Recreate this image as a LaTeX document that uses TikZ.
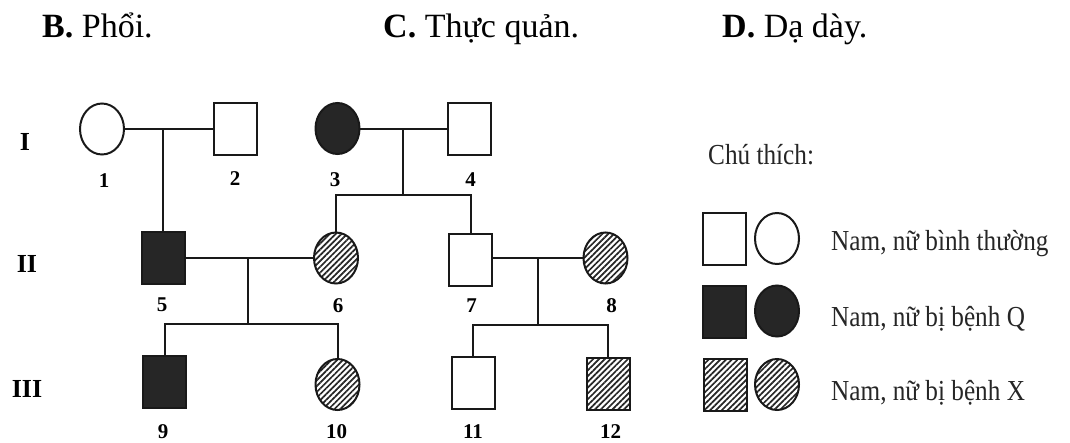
\documentclass[tikz,border=0pt]{standalone}
\usepackage{fontspec}
\setmainfont{Liberation Serif}
\newfontfamily\legfont[FakeStretch=0.87]{Liberation Serif}
\usetikzlibrary{shapes.geometric,patterns.meta}
\tikzset{
  pline/.style={line width=2pt, draw=black!90},
  person/.style={draw=black!90, line width=2pt, inner sep=0pt, outer sep=0pt},
  male/.style={person, rectangle, minimum width=43pt, minimum height=52pt},
  female/.style={person, ellipse, minimum width=44pt, minimum height=51pt},
  affQ/.style={fill=black!85},
  affX/.style={pattern={Lines[angle=45,distance=4.1pt,line width=1.7pt]}, pattern color=black!85},
  num/.style={font=\bfseries\fontsize{21}{21}\selectfont, inner sep=0pt},
  gen/.style={font=\bfseries\fontsize{26}{26}\selectfont, inner sep=0pt},
  leg/.style={font=\legfont\fontsize{29}{29}\selectfont, anchor=base west, inner sep=0pt, text=black!85},
  opt/.style={font=\fontsize{34}{34}\selectfont, anchor=base west, inner sep=0pt}
}
\begin{document}
\begin{tikzpicture}[x=1pt,y=-1pt]
\useasboundingbox (0,0) rectangle (1070,442);
% answer options
\node[opt] (ob) at (42,37) {\textbf{B.} Phổi.};
\node[opt] (oc) at (383,37) {\textbf{C.} Thực quản.};
\node[opt] (od) at (722,37) {\textbf{D.} Dạ dày.};
% generation labels
\node[gen] (gI) at (25,141.7) {I};
\node[gen] (gII) at (27,264) {II};
\node[gen] (gIII) at (27,389) {III};
% persons
\node[female] (p1) at (102,129) {};
\node[male] (p2) at (235,129) {};
\node[female,affQ] (p3) at (337.5,128.5) {};
\node[male] (p4) at (469.7,128.5) {};
\node[male,affQ] (p5) at (163,258) {};
\node[female,affX] (p6) at (336,258) {};
\node[male] (p7) at (470.5,260) {};
\node[female,affX] (p8) at (605.5,258) {};
\node[male,affQ] (p9) at (164.5,382) {};
\node[female,affX] (p10) at (337.5,384.5) {};
\node[male] (p11) at (473.4,383) {};
\node[male,affX] (p12) at (608,383.5) {};
% numbers
\node[num] (n1) at (104,181) {1};
\node[num] (n2) at (235,179) {2};
\node[num] (n3) at (335,180) {3};
\node[num] (n4) at (470.7,180) {4};
\node[num] (n5) at (162,305) {5};
\node[num] (n6) at (338,306) {6};
\node[num] (n7) at (471.7,306) {7};
\node[num] (n8) at (611.7,306) {8};
\node[num] (n9) at (163,432) {9};
\node[num] (n10) at (336.7,432) {10};
\node[num] (n11) at (473,432) {11};
\node[num] (n12) at (610.6,432) {12};
% connection points
\coordinate (m12) at (162.5,129);
\coordinate (m34) at (402.7,128.5);
\coordinate (s34) at (402.7,195);
\coordinate (m56) at (248.3,258);
\coordinate (s56) at (248.3,324);
\coordinate (m78) at (537.7,258);
\coordinate (s78) at (537.7,325);
% lines
\draw[pline] (p1.east) -- (p2.west);
\draw[pline] (m12) -- (m12 |- p5.north);
\draw[pline] (p3.east) -- (p4.west);
\draw[pline] (m34) -- (s34);
\draw[pline] (p6.north) |- (s34) -| (p7.north);
\draw[pline] (p5.east) -- (p6.west);
\draw[pline] (m56) -- (s56);
\draw[pline] (p9.north) |- (s56) -| (p10.north);
\draw[pline] (m78 -| p7.east) -- (p8.west);
\draw[pline] (m78) -- (s78);
\draw[pline] (p11.north) |- (s78) -| (p12.north);
% legend
\node[leg] (ct) at (708,164) {Chú thích:};
\node[male] (l1m) at (724.5,239) {};
\node[female] (l1f) at (777,238.5) {};
\node[male,affQ] (l2m) at (724.8,311.7) {};
\node[female,affQ] (l2f) at (777,311) {};
\node[male,affX] (l3m) at (725.3,384.5) {};
\node[female,affX] (l3f) at (777,384.5) {};
\node[leg] (t1) at (831,250) {Nam, nữ bình thường};
\node[leg] (t2) at (831,326.7) {Nam, nữ bị bệnh Q};
\node[leg] (t3) at (831,400) {Nam, nữ bị bệnh X};
\end{tikzpicture}
\end{document}
